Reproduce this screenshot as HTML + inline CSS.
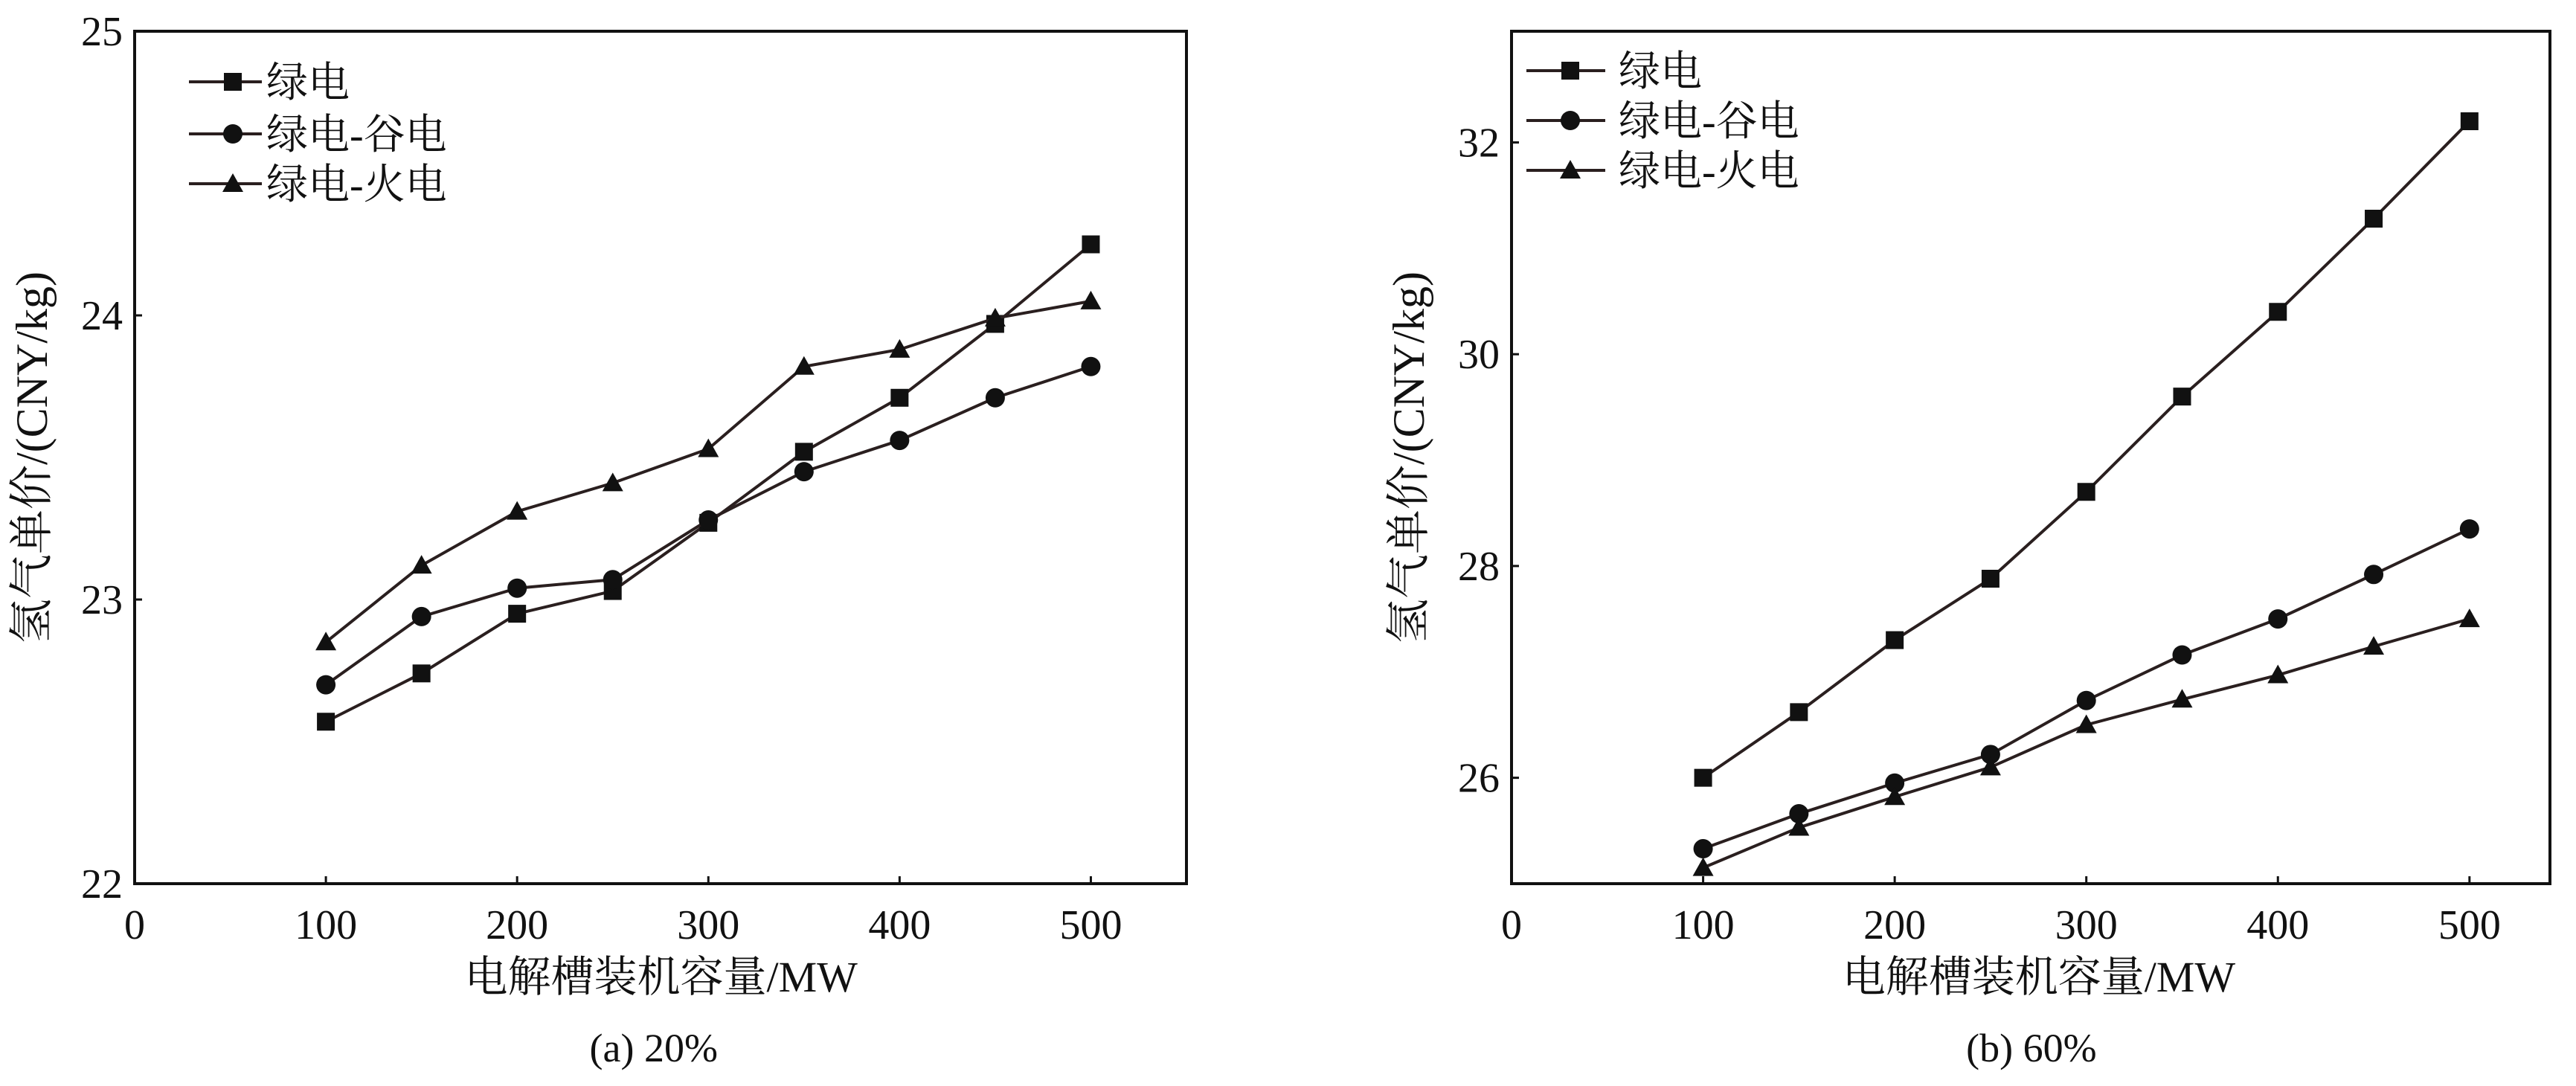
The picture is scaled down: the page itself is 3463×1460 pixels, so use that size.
<!DOCTYPE html>
<html><head><meta charset="utf-8"><style>
html,body{margin:0;padding:0;background:#fff;}
svg{display:block;}
text{font-family:"Liberation Serif","Noto Serif CJK SC",serif;fill:#111;}
</style></head><body>
<svg id="chart" width="3463" height="1460" viewBox="0 0 3463 1460" xmlns="http://www.w3.org/2000/svg"></svg>
<script>
const categories = [100,150,200,250,300,350,400,450,500];
const seriesNames = ["绿电","绿电-谷电","绿电-火电"];
const markers = ["square","circle","triangle"];
const a_green = [22.57,22.74,22.95,23.03,23.27,23.52,23.71,23.97,24.25];
const a_valley = [22.70,22.94,23.04,23.07,23.28,23.45,23.56,23.71,23.82];
const a_thermal = [22.85,23.12,23.31,23.41,23.53,23.82,23.88,23.99,24.05];
const b_green = [26.0,26.62,27.3,27.88,28.7,29.6,30.4,31.28,32.2];
const b_valley = [25.33,25.66,25.95,26.22,26.73,27.16,27.5,27.92,28.35];
const b_thermal = [25.15,25.53,25.82,26.1,26.5,26.74,26.97,27.24,27.5];
const xTicks = [0,100,200,300,400,500];
const aYTicks = [22,23,24,25];
const bYTicks = [26,28,30,32];

const NS="http://www.w3.org/2000/svg";
const svg=document.getElementById('chart');
function mk(tag,attrs,parent){const e=document.createElementNS(NS,tag);for(const k in attrs)e.setAttribute(k,attrs[k]);(parent||svg).appendChild(e);return e;}

function marker(g,type,x,y){
  let m;
  if(type==="square") m=mk('rect',{x:x-12,y:y-12,width:24,height:24,fill:'#111'},g);
  else if(type==="circle") m=mk('circle',{cx:x,cy:y,r:13,fill:'#111'},g);
  else m=mk('polygon',{points:`${x},${y-14} ${x-14},${y+11} ${x+14},${y+11}`,fill:'#111'},g);
  return m;
}

function panel(id,box,xMax,yMin,yMax,yTicks,series,legend,caption){
  const g=mk('g',{});
  
  
  const X=v=>box.x0+(v/xMax)*(box.x1-box.x0);
  const Y=v=>box.y1-(v-yMin)/(yMax-yMin)*(box.y1-box.y0);
  const frame=mk('rect',{x:box.x0,y:box.y0,width:box.x1-box.x0,height:box.y1-box.y0,fill:'none',stroke:'#111','stroke-width':4},g);
  
  
  xTicks.forEach(t=>{
    mk('line',{x1:X(t),x2:X(t),y1:box.y1,y2:box.y1-10,stroke:'#111','stroke-width':3},g);
    const tx=mk('text',{x:X(t),y:box.y1+74,'text-anchor':'middle','font-size':56},g);
    tx.textContent=t;
    
    
  });
  yTicks.forEach(t=>{
    mk('line',{x1:box.x0,x2:box.x0+10,y1:Y(t),y2:Y(t),stroke:'#111','stroke-width':3},g);
    const tx=mk('text',{x:box.x0-16,y:Y(t)+19,'text-anchor':'end','font-size':56},g);
    tx.textContent=t;
    
    
  });
  series.forEach((s,i)=>{
    const sg=mk('g',{},g);
    
    
    const pts=categories.map((c,j)=>X(c)+','+Y(s[j])).join(' ');
    const pl=mk('polyline',{points:pts,fill:'none',stroke:'#2a1f1f','stroke-width':4},sg);
    
    
    categories.forEach((c,j)=>{
      const m=marker(sg,markers[i],X(c),Y(s[j]));
      
      
    });
    const ly=legend.ys[i];
    const lg=mk('g',{},g);
    
    
    mk('line',{x1:legend.x0,x2:legend.x1,y1:ly,y2:ly,stroke:'#2a1f1f','stroke-width':4},lg);
    marker(lg,markers[i],legend.mx,ly);
    const lt=mk('text',{x:legend.tx,y:ly+20,'font-size':56},lg);
    lt.textContent=seriesNames[i];
  });
  const xt=mk('text',{x:(X(0)+X(500))/2+65,y:1333,'text-anchor':'middle','font-size':58},g);
  xt.textContent='电解槽装机容量/MW';
  
  
  const cy=(box.y0+box.y1)/2;
  const yt=mk('text',{x:0,y:0,'text-anchor':'middle','font-size':60,transform:`translate(${box.x0-118},${cy}) rotate(-90)`},g);
  yt.textContent='氢气单价/(CNY/kg)';
  
  
  const cp=mk('text',{x:(X(0)+X(500))/2+55,y:1427,'text-anchor':'middle','font-size':54},g);
  cp.textContent=caption;
  
  
}

panel('panel-a',{x0:181,x1:1595,y0:42,y1:1188},550,22,25,aYTicks,[a_green,a_valley,a_thermal],
  {x0:254,x1:352,mx:313,tx:358,ys:[110,180,247]},'(a) 20%');
panel('panel-b',{x0:2032,x1:3428,y0:42,y1:1188},542,25.0,33.05,bYTicks,[b_green,b_valley,b_thermal],
  {x0:2052,x1:2158,mx:2111,tx:2176,ys:[95,162,229]},'(b) 60%');
</script>
</body></html>
